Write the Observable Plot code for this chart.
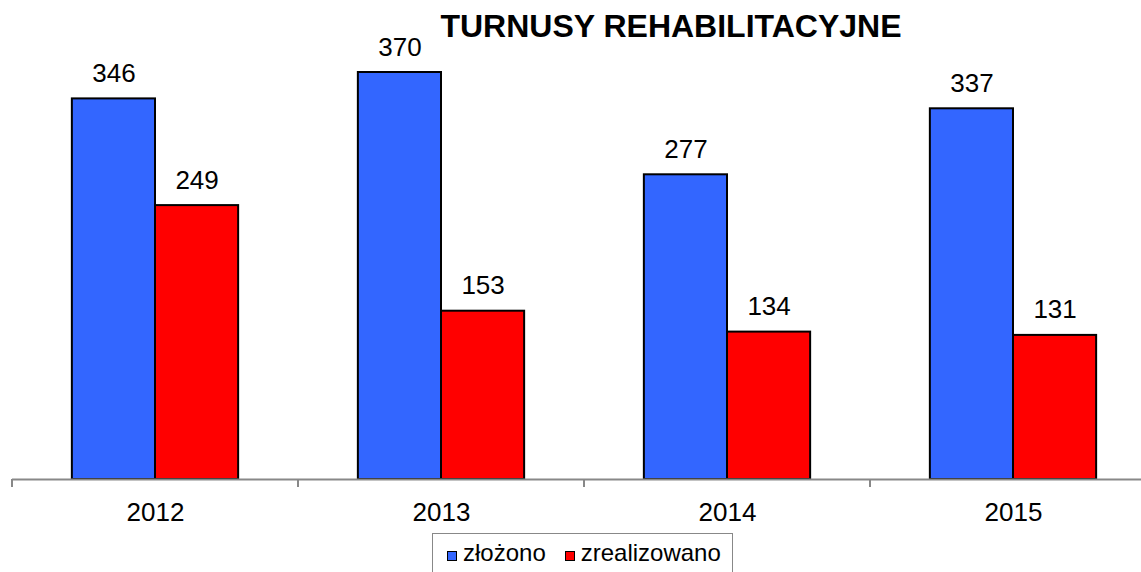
<!DOCTYPE html>
<html><head><meta charset="utf-8">
<script src="https://cdn.jsdelivr.net/npm/d3@7"></script>
<script src="https://cdn.jsdelivr.net/npm/@observablehq/plot@0.6"></script>
<style>
html,body{margin:0;padding:0;background:#fff;overflow:hidden;width:1141px;height:572px;}
body{font-family:"Liberation Sans",Arial,sans-serif;color:#000;}
#title{width:1342px;height:29px;padding-top:10px;font-size:32px;line-height:32px;font-weight:bold;text-align:center;white-space:nowrap;}
#chart{height:494px;width:1141px;overflow:visible;}
#chart svg{display:block;max-width:none !important;width:1160px !important;height:494px !important;}
#legend{margin-left:432px;width:301px;height:50px;box-sizing:border-box;border:1px solid #888;padding:7px 0 0 14px;font-size:24px;line-height:24px;white-space:nowrap;}
#legend .sw{display:inline-block;width:10px;height:10px;box-sizing:border-box;border:1.5px solid #000;margin-right:6px;vertical-align:baseline;}
#legend .item{margin-right:19px;}
</style>
</head><body>
<div id="title"></div>
<div id="chart"></div>
<div id="legend"></div>
<script>
const titleText = "TURNUSY REHABILITACYJNE";
const years = ["2012", "2013", "2014", "2015"];
const series = ["złożono", "zrealizowano"];
const zlozono = [346, 370, 277, 337];
const zrealizowano = [249, 153, 134, 131];
const colors = ["#3366FF", "#FF0000"];

document.getElementById("title").textContent = titleText;

const data = years.flatMap((y, i) => [
  {year: y, series: series[0], value: zlozono[i]},
  {year: y, series: series[1], value: zrealizowano[i]}
]);

const plot = Plot.plot({
  width: 1160,
  height: 494,
  marginTop: 0,
  marginBottom: 54,
  marginLeft: 10,
  marginRight: 3,
  style: {fontFamily: '"Liberation Sans", Arial, sans-serif', fontSize: "26px", color: "#000", background: "#fff", overflow: "visible", maxWidth: "none"},
  fx: {domain: years, padding: 0, axis: "bottom", label: null, tickSize: 0, tickPadding: 23},
  x: {domain: series, axis: null, paddingInner: 0, paddingOuter: 0.72, round: false},
  y: {domain: [0, 400], axis: null},
  color: {domain: series, range: colors},
  marks: [
    Plot.barY(data, {fx: "year", x: "series", y: "value", fill: "series", stroke: "#000", strokeWidth: 2}),
    Plot.ruleY([0], {stroke: "#888", strokeWidth: 2}),
    Plot.text(data, {fx: "year", x: "series", y: "value", text: d => String(d.value), dy: -17, lineAnchor: "bottom", fontSize: 26, fill: "#000"})
  ]
});
document.getElementById("chart").appendChild(plot);

// group boundary tick marks, positioned from Plot's own scales
try {
  const svgEl = plot.tagName.toLowerCase() === "svg" ? plot : plot.querySelector("svg");
  const fx = plot.scale("fx");
  const ys = plot.scale("y");
  const y0 = ys.apply(0);
  const bounds = years.map(y => fx.apply(y));
  bounds.push(fx.apply(years[years.length - 1]) + fx.bandwidth);
  const g = d3.select(svgEl).append("g").attr("stroke", "#888").attr("stroke-width", 2);
  bounds.forEach(b => g.append("line").attr("x1", b).attr("x2", b).attr("y1", y0).attr("y2", y0 + 8));
} catch (e) { console.error(e); }

// legend
const lg = document.getElementById("legend");
series.forEach((s, i) => {
  const item = document.createElement("span");
  item.className = "item";
  const sw = document.createElement("span");
  sw.className = "sw";
  sw.style.background = colors[i];
  item.appendChild(sw);
  item.appendChild(document.createTextNode(s));
  lg.appendChild(item);
});
</script>
</body></html>
